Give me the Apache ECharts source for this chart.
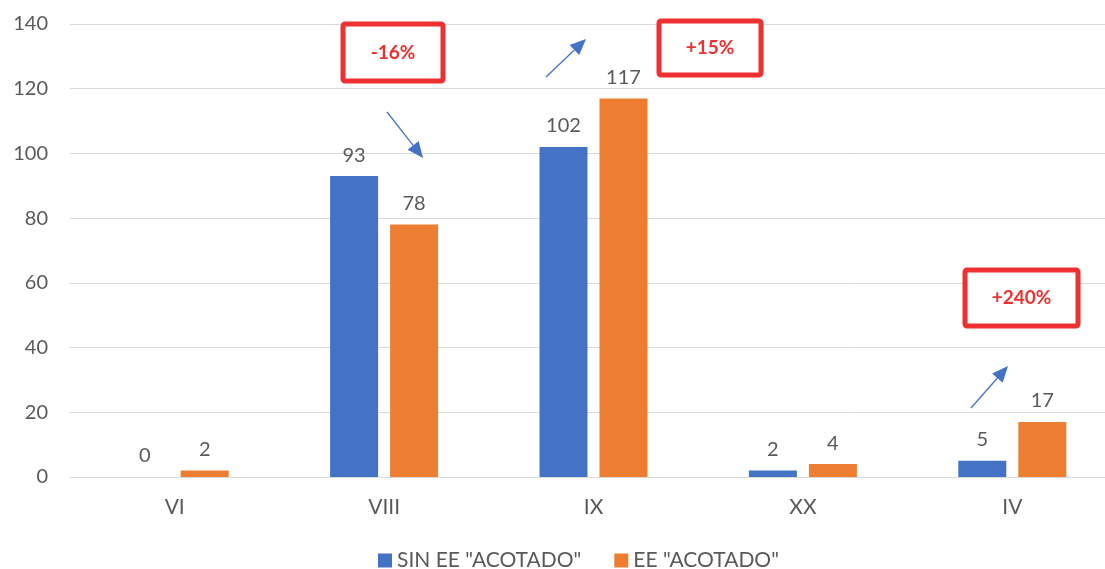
<!DOCTYPE html>
<html><head><meta charset="utf-8">
<script src="https://cdn.jsdelivr.net/npm/echarts@6/dist/echarts.min.js"></script>
<style>html,body{margin:0;padding:0;background:#fff;overflow:hidden}#c{width:1135px;height:569px}</style>
</head><body><div id="c"></div>
<script>
const categories = ['VI','VIII','IX','XX','IV'];
const sinEE = [0, 93, 102, 2, 5];
const conEE = [2, 78, 117, 4, 17];
const seriesNames = ['SIN EE "ACOTADO"', 'EE "ACOTADO"'];
const yTicks = {min: 0, max: 140, interval: 20};
const notes = [
  {text: '-16%', box: [343, 24, 100, 57], arrow: [387, 112, 423, 158]},
  {text: '+15%', box: [659, 21, 102, 54], arrow: [546, 77, 586, 39]},
  {text: '+240%', box: [965, 270, 113, 56], arrow: [971, 408, 1008, 366]}
];
const font = 'Lato, "Liberation Sans", sans-serif';
const chart = echarts.init(document.getElementById('c'));
const graphics = [];
notes.forEach(n => {
  graphics.push({type:'rect', shape:{x:n.box[0], y:n.box[1], width:n.box[2], height:n.box[3], r:2},
    style:{fill:'#fff', stroke:'#EE3030', lineWidth:5}, z:100});
  graphics.push({type:'text', x:n.box[0]+n.box[2]/2, y:n.box[1]+n.box[3]/2,
    style:{text:n.text, fill:'#EE3030', font:'bold 19px ' + font, align:'center', verticalAlign:'middle'}, z:101});
  const [x1,y1,x2,y2] = n.arrow;
  const ang = Math.atan2(y2-y1, x2-x1);
  const L = 16, W = 7;
  const bx = x2 - L*Math.cos(ang), by = y2 - L*Math.sin(ang);
  graphics.push({type:'line', shape:{x1, y1, x2:bx, y2:by}, style:{stroke:'#4472C4', lineWidth:1.3}, z:100});
  graphics.push({type:'polygon', shape:{points:[[x2,y2],[bx - W*Math.sin(ang), by + W*Math.cos(ang)],[bx + W*Math.sin(ang), by - W*Math.cos(ang)]]},
    style:{fill:'#4472C4'}, z:100});
});
chart.setOption({
  animation:false,
  textStyle:{fontFamily:font},
  grid:{left:70, top:24, width:1047, height:453, containLabel:false},
  legend:{top:545, left:373, itemWidth:14, itemHeight:14, itemGap:33, icon:'rect',
    textStyle:{color:'#595959', fontSize:21, fontFamily:font}, data:seriesNames},
  xAxis:{type:'category', data:categories,
    axisLine:{show:true, lineStyle:{color:'#D9D9D9', width:1}}, axisTick:{show:false},
    axisLabel:{color:'#595959', fontSize:21, margin:20, fontFamily:font}},
  yAxis:{type:'value', min:yTicks.min, max:yTicks.max, interval:yTicks.interval,
    axisLine:{show:false}, axisTick:{show:false},
    axisLabel:{color:'#595959', fontSize:20, margin:22, fontFamily:font},
    splitLine:{lineStyle:{color:'#D9D9D9', width:1}}},
  series:[
    {name:seriesNames[0], type:'bar', data:sinEE, barWidth:48, barGap:'25%',
     itemStyle:{color:'#4472C4'},
     label:{show:true, position:'top', distance:11, color:'#595959', fontSize:20, fontFamily:font}},
    {name:seriesNames[1], type:'bar', data:conEE, barWidth:48,
     itemStyle:{color:'#ED7D31'},
     label:{show:true, position:'top', distance:11, color:'#595959', fontSize:20, fontFamily:font}}
  ],
  graphic:graphics
});
</script></body></html>
